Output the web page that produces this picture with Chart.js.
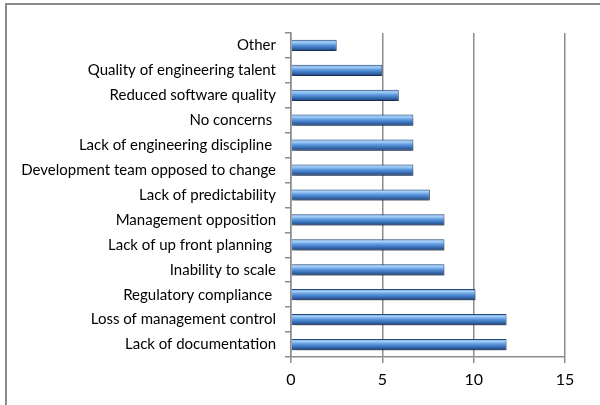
<!DOCTYPE html>
<html>
<head>
<meta charset="utf-8">
<script src="https://cdn.jsdelivr.net/npm/chart.js@4/dist/chart.umd.min.js"></script>
<style>
  body { margin: 0; background: #fff; }
  #frame { position: absolute; left: 5px; top: 3px; width: 700px; height: 500px;
           border-left: 2px solid #8a8a8a; border-top: 2px solid #8a8a8a; }
  #wrap { position: absolute; left: 0; top: 0; width: 600px; height: 405px; }
</style>
</head>
<body>
<div id="frame"></div>
<div id="wrap"><canvas id="myChartBar" width="600" height="405"></canvas></div>
<script>
// categories, top to bottom as shown
let labels = [
    "Other",
    "Quality of engineering talent",
    "Reduced software quality",
    "No concerns ",
    "Lack of engineering discipline ",
    "Development team opposed to change",
    "Lack of predictability",
    "Management opposition",
    "Lack of up front planning ",
    "Inability to scale",
    "Regulatory compliance ",
    "Loss of management control",
    "Lack of documentation"
];
let values = [2.5, 5.0, 5.9, 6.7, 6.7, 6.7, 7.6, 8.4, 8.4, 8.4, 10.1, 11.8, 11.8];
let xTicks = [0, 5, 10, 15];

let gridColor = "#8c8c8c";
let fontFamily = "Lato, 'Open Sans', sans-serif";

// gives every bar its own vertical gradient and a soft shadow
let barShading = {
    id: "barShading",
    beforeDatasetsDraw: function (chart) {
        let ctx = chart.ctx;
        let meta = chart.getDatasetMeta(0);
        meta.data.forEach(function (bar) {
            let top = bar.y - bar.height / 2;
            let g = ctx.createLinearGradient(0, top, 0, top + bar.height);
            g.addColorStop(0, "#5f9be0");
            g.addColorStop(0.2, "#a6d0f8");
            g.addColorStop(0.45, "#5e9ae0");
            g.addColorStop(0.75, "#3569b0");
            g.addColorStop(1, "#1d3f70");
            bar.options.backgroundColor = g;
        });
        ctx.save();
        ctx.shadowColor = "rgba(0,0,0,0.4)";
        ctx.shadowBlur = 5;
        ctx.shadowOffsetY = 4;
        ctx.shadowOffsetX = 1;
    },
    afterDatasetsDraw: function (chart) {
        chart.ctx.restore();
    }
};

let canvas = document.getElementById("myChartBar");
let myChartBar = new Chart(canvas, {
    type: "bar",
    data: {
        labels: labels,
        datasets: [{
            data: values,
            // scriptable so every bar keeps its own options object
            backgroundColor: function () { return "#4f8ad6"; },
            borderColor: "#27497a",
            borderWidth: 1,
            barPercentage: 0.9,
            categoryPercentage: 0.5
        }]
    },
    options: {
        indexAxis: "y",
        responsive: false,
        animation: false,
        layout: { padding: { top: 33, right: 35, left: 0, bottom: 0 } },
        plugins: {
            legend: { display: false },
            tooltip: { enabled: false }
        },
        scales: {
            x: {
                min: 0,
                max: 15,
                afterBuildTicks: function (scale) {
                    scale.ticks = xTicks.map(function (v) { return { value: v }; });
                },
                afterFit: function (scale) { scale.height = 48; },
                grid: { color: gridColor, lineWidth: 1.5, tickLength: 6, tickColor: gridColor },
                border: { color: gridColor, width: 1.5 },
                ticks: { color: "#000", padding: 7, font: { family: fontFamily, size: 16 } }
            },
            y: {
                afterFit: function (scale) { scale.width = 291; },
                grid: { offset: true, drawOnChartArea: false, tickLength: 6, color: gridColor, lineWidth: 1.5 },
                border: { color: gridColor, width: 1.5 },
                ticks: { color: "#000", padding: 9, font: { family: fontFamily, size: 15 } }
            }
        }
    },
    plugins: [barShading]
});
</script>
</body>
</html>
